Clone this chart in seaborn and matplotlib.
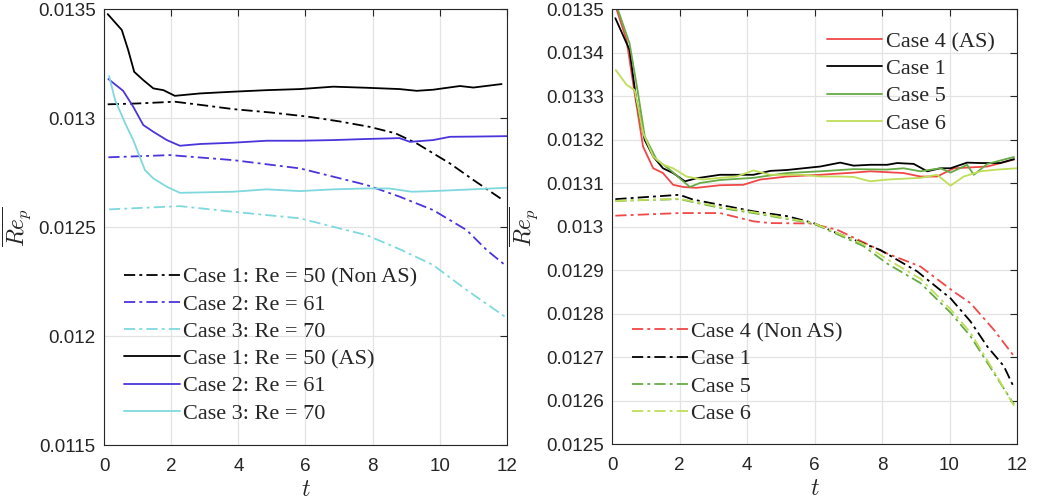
import numpy as np
import pandas as pd
import matplotlib
matplotlib.use('Agg')
import matplotlib.pyplot as plt
import seaborn as sns
from matplotlib.ticker import FuncFormatter, MultipleLocator

# ---- data ----
# left panel, solid (AS)
t_c1 = [0.11, 0.53, 0.72, 0.9, 1.17, 1.47, 1.77, 2.11, 2.86, 3.85, 4.84, 5.84, 6.83, 7.82, 8.8, 9.31, 9.8, 10.6, 11.0, 11.84]
c1_as = [0.013477, 0.013404, 0.013312, 0.013212, 0.013174, 0.013136, 0.013128, 0.013102, 0.013113, 0.013121,
         0.013128, 0.013133, 0.013144, 0.013139, 0.013133, 0.013125, 0.01313, 0.013147, 0.01314, 0.013156]
t_c2 = [0.13, 0.57, 0.87, 1.17, 1.47, 1.87, 2.26, 2.86, 3.85, 4.84, 5.84, 6.83, 7.82, 8.8, 9.11, 9.8, 10.3, 11.0, 11.99]
c2_as = [0.013179, 0.013125, 0.013052, 0.012968, 0.012937, 0.012899, 0.012873, 0.012881, 0.012887, 0.012896,
         0.012896, 0.012899, 0.012904, 0.012908, 0.012891, 0.012899, 0.012914, 0.012915, 0.012917]
t_c3 = [0.15, 0.33, 0.63, 0.87, 1.22, 1.47, 1.87, 2.26, 3.85, 4.84, 5.84, 6.83, 7.82, 8.5, 9.16, 9.8, 11.99]
c3_as = [0.013193, 0.013083, 0.012976, 0.012899, 0.012761, 0.012723, 0.012685, 0.012657, 0.012662, 0.012673,
         0.012665, 0.012673, 0.012677, 0.012677, 0.012662, 0.012665, 0.01268]

# left panel, dash-dot (Non AS)
t_c1n = [0.11, 1.0, 2.11, 3.0, 3.85, 5.0, 6.1, 7.0, 7.9, 8.68, 9.31, 10.3, 11.0, 11.84]
c1_non = [0.013063, 0.013067, 0.013075, 0.013058, 0.013041, 0.013025, 0.013006, 0.012985, 0.01296, 0.01293,
          0.012884, 0.012792, 0.012716, 0.012628]
t_c2n = [0.13, 1.97, 3.85, 5.84, 7.82, 8.81, 9.8, 10.8, 11.4, 11.94]
c2_non = [0.01282, 0.01283, 0.012807, 0.012769, 0.012693, 0.012639, 0.012578, 0.012486, 0.012394, 0.012326]
t_c3n = [0.15, 2.26, 3.85, 5.84, 6.83, 7.82, 8.81, 9.8, 10.8, 11.94]
c3_non = [0.012581, 0.012596, 0.01257, 0.01254, 0.012501, 0.012463, 0.012398, 0.012326, 0.012211, 0.012089]

# right panel, solid (AS)
t_r4 = [0.05, 0.43, 0.67, 0.92, 1.22, 1.51, 1.81, 2.11, 2.5, 3.2, 3.89, 4.39, 5.18, 6.17, 7.16, 7.65, 8.15, 8.64,
        9.14, 9.63, 10.13, 11.12, 11.91]
r4_as = [0.01352, 0.013429, 0.013307, 0.013184, 0.013134, 0.013123, 0.013096, 0.013091, 0.013089, 0.013095,
         0.013096, 0.013108, 0.013115, 0.013119, 0.013124, 0.013127, 0.013125, 0.013123, 0.013115, 0.013115,
         0.013134, 0.013138, 0.013154]
t_r1 = [0.1, 0.52, 0.72, 0.97, 1.22, 1.51, 1.81, 2.16, 2.5, 3.2, 4.19, 4.69, 5.18, 5.67, 6.17, 6.76, 7.16, 7.65,
        8.15, 8.45, 8.94, 9.34, 9.73, 10.03, 10.52, 10.92, 11.5, 11.91]
r1_as = [0.013479, 0.013406, 0.013291, 0.013199, 0.013161, 0.013134, 0.013123, 0.013104, 0.013111, 0.013119,
         0.013119, 0.013128, 0.01313, 0.013134, 0.013138, 0.013147, 0.01314, 0.013142, 0.013142, 0.013146,
         0.013144, 0.013127, 0.013134, 0.013134, 0.013147, 0.013146, 0.013146, 0.013155]
t_r5 = [0.08, 0.52, 0.77, 0.97, 1.32, 1.71, 2.11, 2.31, 2.6, 3.2, 4.19, 5.18, 6.17, 7.16, 8.15, 8.64, 9.14, 9.73,
        10.03, 10.52, 10.72, 11.12, 11.91]
r5_as = [0.01352, 0.013421, 0.013307, 0.013207, 0.013154, 0.013131, 0.013104, 0.013091, 0.0131, 0.013107,
         0.013112, 0.013123, 0.013127, 0.013132, 0.013131, 0.013134, 0.013127, 0.013134, 0.013124, 0.013142,
         0.013119, 0.013144, 0.01316]
t_r6 = [0.11, 0.43, 0.67, 0.92, 1.22, 1.51, 1.81, 2.21, 2.7, 3.2, 3.69, 4.19, 4.69, 5.67, 6.17, 6.76, 7.16, 7.65,
        8.15, 9.14, 9.63, 10.03, 10.42, 10.92, 11.41, 12.0]
r6_as = [0.01336, 0.013326, 0.013314, 0.013215, 0.013161, 0.013142, 0.013134, 0.013115, 0.013108, 0.013112,
         0.013115, 0.013129, 0.013119, 0.013119, 0.013115, 0.013115, 0.013114, 0.013104, 0.013108, 0.013112,
         0.013119, 0.013094, 0.013115, 0.013127, 0.013131, 0.013134]

# right panel, dash-dot (Non AS)
t_r4n = [0.1, 2.0, 3.2, 4.19, 4.68, 5.87, 6.66, 8.15, 9.14, 10.13, 10.62, 11.31, 11.91]
r4_non = [0.013025, 0.013031, 0.013031, 0.013012, 0.013008, 0.013007, 0.012993, 0.012938, 0.012908, 0.01285,
          0.012824, 0.012763, 0.012702]
t_r1n = [0.1, 2.0, 2.4, 3.2, 4.19, 5.18, 5.97, 6.66, 7.95, 9.04, 10.03, 10.62, 11.12, 11.61, 11.89]
r1_non = [0.013063, 0.013073, 0.013062, 0.01305, 0.013035, 0.013024, 0.013008, 0.012985, 0.012946, 0.012897,
          0.012835, 0.012782, 0.012724, 0.012679, 0.012633]
t_r56n = [0.1, 2.0, 3.2, 4.19, 5.97, 7.45, 8.15, 9.14, 10.03, 10.62, 11.31, 11.91]
r5_non = [0.013059, 0.013063, 0.013043, 0.013031, 0.013007, 0.012955, 0.012915, 0.01287, 0.012802, 0.012748,
          0.012664, 0.012591]
r6_non = [0.013059, 0.013064, 0.013045, 0.013033, 0.013008, 0.01296, 0.012925, 0.01288, 0.01281, 0.012756,
          0.012668, 0.012588]

# ---- style ----
sns.set_theme(style='white')
plt.rcParams['font.family'] = ['Liberation Sans', 'DejaVu Sans']
plt.rcParams['mathtext.fontset'] = 'cm'

BLACK = '#000000'
BLUE = '#4a35dc'
CYAN = '#7fd8de'
RED = '#f04848'
GREEN = '#66ab45'
LGREEN = '#bfde58'
DASHDOT = (0, (6.2, 2.3, 1.6, 2.3))
LW = 1.3

fig = plt.figure(figsize=(10.38, 5.04), dpi=100)
ax1 = fig.add_axes([0.1002, 0.117, 0.3882, 0.865])
ax2 = fig.add_axes([0.5896, 0.119, 0.3902, 0.863])


def draw(ax, t, y, color, ls, label):
    sns.lineplot(x=t, y=y, ax=ax, color=color, linestyle=ls, linewidth=LW, label=label,
                 sort=False, errorbar=None)


def style(ax):
    ax.set_xlim(0, 12)
    ax.xaxis.set_major_locator(MultipleLocator(2))
    ax.grid(True, color='#e3e3e3', linewidth=0.9)
    ax.tick_params(direction='in', top=True, right=True, length=5, width=0.8,
                   color='#262626', labelsize=13.6, labelcolor='#262626', pad=6)
    ax.tick_params(axis='x', pad=9)
    for s in ax.spines.values():
        s.set_color('#262626')
        s.set_linewidth(0.8)
    ax.yaxis.set_major_formatter(FuncFormatter(lambda v, p: f'{round(v, 6):g}'))
    ax.set_xlabel('$t$', fontsize=17, labelpad=3)
    ax.set_ylabel(r'$\overline{Re_p}$', fontsize=17)


leg_kw = dict(frameon=False, prop={'family': 'Liberation Serif', 'size': 16}, handlelength=2.5,
              handletextpad=0.15, labelspacing=0.3, borderpad=0, borderaxespad=0)

# left panel
draw(ax1, t_c1n, c1_non, BLACK, DASHDOT, 'Case 1: Re = 50 (Non AS)')
draw(ax1, t_c2n, c2_non, BLUE, DASHDOT, 'Case 2: Re = 61')
draw(ax1, t_c3n, c3_non, CYAN, DASHDOT, 'Case 3: Re = 70')
draw(ax1, t_c1, c1_as, BLACK, '-', 'Case 1: Re = 50 (AS)')
draw(ax1, t_c2, c2_as, BLUE, '-', 'Case 2: Re = 61')
draw(ax1, t_c3, c3_as, CYAN, '-', 'Case 3: Re = 70')
ax1.set_ylim(0.0115, 0.0135)
ax1.yaxis.set_major_locator(MultipleLocator(0.0005))
style(ax1)
ax1.yaxis.set_label_coords(-0.176, 0.5)
ax1.legend(loc='center left', bbox_to_anchor=(0.05, 0.229), **leg_kw)

# right panel
for t, y, c, lab in [(t_r4, r4_as, RED, 'Case 4 (AS)'), (t_r1, r1_as, BLACK, 'Case 1'),
                     (t_r5, r5_as, GREEN, 'Case 5'), (t_r6, r6_as, LGREEN, 'Case 6')]:
    draw(ax2, t, y, c, '-', lab)
for t, y, c, lab in [(t_r4n, r4_non, RED, 'Case 4 (Non AS)'), (t_r1n, r1_non, BLACK, 'Case 1'),
                     (t_r56n, r5_non, GREEN, 'Case 5'), (t_r56n, r6_non, LGREEN, 'Case 6')]:
    draw(ax2, t, y, c, DASHDOT, lab)
ax2.set_ylim(0.0125, 0.0135)
ax2.yaxis.set_major_locator(MultipleLocator(0.0001))
style(ax2)
ax2.yaxis.set_label_coords(-0.178, 0.5)
handles, labels = ax2.get_legend_handles_labels()
leg_top = ax2.legend(handles[:4], labels[:4], loc='center left', bbox_to_anchor=(0.53, 0.831), **leg_kw)
ax2.add_artist(leg_top)
ax2.legend(handles[4:], labels[4:], loc='center left', bbox_to_anchor=(0.05, 0.164), **leg_kw)

fig.savefig('out.png', dpi=100)
